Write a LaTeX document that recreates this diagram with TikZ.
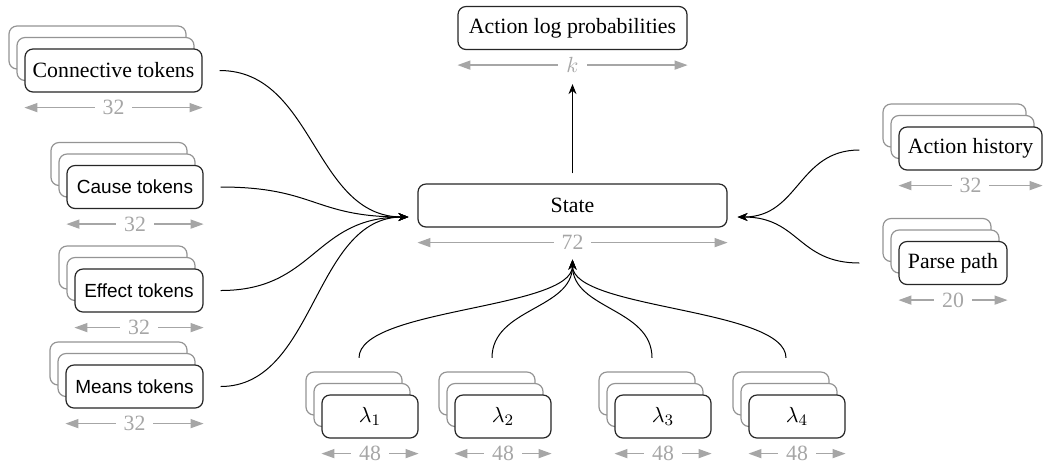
\documentclass[tikz,border=0pt]{standalone}
\usepackage{fontspec}
\setmainfont{Liberation Serif}
\newfontfamily\serifmain{Liberation Serif}
\newfontfamily\sanstok{Liberation Sans}
\usetikzlibrary{arrows.meta,calc}
\newcommand{\sanst}[1]{{\sanstok\fontsize{9.5}{11}\selectfont #1}}
\newcommand{\mkstack}[6]{%
  \node[backbox, minimum width=#4*0.5pt] (#1-b1) at ({#2-16},{#3-23}) {};
  \node[backbox, minimum width=#4*0.5pt] (#1-b2) at ({#2-8},{#3-11.5}) {};
  \node[frontbox, minimum width=#4*0.5pt] (#1) at (#2,#3) {#5};
  \draw[dimarrow] ($(#1.south west)+(0,15)$) -- node[dimlabel]{#6} ($(#1.south east)+(0,15)$);
}
\tikzset{
  frontbox/.style={draw=black!85, line width=0.6pt, rounded corners=4pt, fill=white,
    minimum height=21.5pt, inner sep=0pt, font=\serifmain\fontsize{10.9}{13}\selectfont},
  backbox/.style={draw=black!42, line width=0.6pt, rounded corners=4pt, fill=white,
    minimum height=21.5pt, inner sep=0pt},
  dimarrow/.style={draw=black!35, line width=0.7pt,
    arrows={Triangle[length=6.5pt,width=4.5pt]-Triangle[length=6.5pt,width=4.5pt]}},
  dimlabel/.style={fill=white, text=black!35, inner xsep=4pt, inner ysep=0pt,
    font=\serifmain\fontsize{10.9}{12}\selectfont},
  link/.style={draw=black, line width=0.5pt, -{Stealth[length=5pt,width=4pt]}},
}
\begin{document}
\begin{tikzpicture}[x=0.5pt, y=-0.5pt]
\useasboundingbox (0,0) rectangle (1043,463);

% left inputs
\mkstack{conn}{113.5}{70.5}{177}{Connective tokens}{32}
\mkstack{cause}{135}{187}{136}{\sanst{Cause tokens}}{32}
\mkstack{effect}{139}{290.5}{128}{\sanst{Effect tokens}}{32}
\mkstack{means}{134.5}{386.5}{137}{\sanst{Means tokens}}{32}

% right inputs
\mkstack{ah}{970.5}{148.5}{143}{Action history}{32}
\mkstack{pp}{953}{263}{108}{Parse path}{20}

% bottom inputs
\mkstack{l1}{370}{416.5}{96}{$\lambda_1$}{48}
\mkstack{l2}{503}{416.5}{96}{$\lambda_2$}{48}
\mkstack{l3}{663}{416.5}{96}{$\lambda_3$}{48}
\mkstack{l4}{797}{416.5}{96}{$\lambda_4$}{48}

% state and output
\node[frontbox, minimum width=154.5pt] (state) at (572.5,205.5) {State};
\draw[dimarrow] ($(state.south west)+(0,15)$) -- node[dimlabel]{72} ($(state.south east)+(0,15)$);
\node[frontbox, minimum width=114.5pt] (out) at (572.5,28) {Action log probabilities};
\draw[dimarrow] ($(out.south west)+(0,15)$) -- node[dimlabel]{$k$} ($(out.south east)+(0,15)$);

% connector end points
\coordinate (stW) at ($(state.west)+(-9,11.5)$);
\coordinate (stE) at ($(state.east)+(10,11.5)$);
\coordinate (stS) at ($(state.south)+(0,32)$);
\coordinate (stN) at ($(state.north)+(0,-10)$);
\coordinate (outS) at ($(out.south)+(0,34)$);

\coordinate (conn-o) at ($(conn.east)+(17,0)$);
\coordinate (cause-o) at ($(cause.east)+(17,0)$);
\coordinate (effect-o) at ($(effect.east)+(17,0)$);
\coordinate (means-o) at ($(means.east)+(17,0)$);
\coordinate (ah-o) at ($(ah.west)+(-39,1.5)$);
\coordinate (pp-o) at ($(pp.west)+(-39,0)$);
\coordinate (l1-o) at ($(l1.north)+(-11,-36.5)$);
\coordinate (l2-o) at ($(l2.north)+(-11,-36.5)$);
\coordinate (l3-o) at ($(l3.north)+(-11,-36.5)$);
\coordinate (l4-o) at ($(l4.north)+(-11,-36.5)$);

% connectors
\draw[link] (conn-o) .. controls +(95,0) and +(-95,0) .. (stW);
\draw[link] (cause-o) .. controls +(95,0) and +(-95,0) .. (stW);
\draw[link] (effect-o) .. controls +(95,0) and +(-95,0) .. (stW);
\draw[link] (means-o) .. controls +(95,0) and +(-95,0) .. (stW);
\draw[link] (ah-o) .. controls +(-61.5,0) and +(61.5,0) .. (stE);
\draw[link] (pp-o) .. controls +(-61.5,0) and +(61.5,0) .. (stE);
\draw[link] (l1-o) .. controls +(0,-50) and +(0,50) .. (stS);
\draw[link] (l2-o) .. controls +(0,-50) and +(0,50) .. (stS);
\draw[link] (l3-o) .. controls +(0,-50) and +(0,50) .. (stS);
\draw[link] (l4-o) .. controls +(0,-50) and +(0,50) .. (stS);
\draw[link] (stN) -- (outS);
\end{tikzpicture}
\end{document}
